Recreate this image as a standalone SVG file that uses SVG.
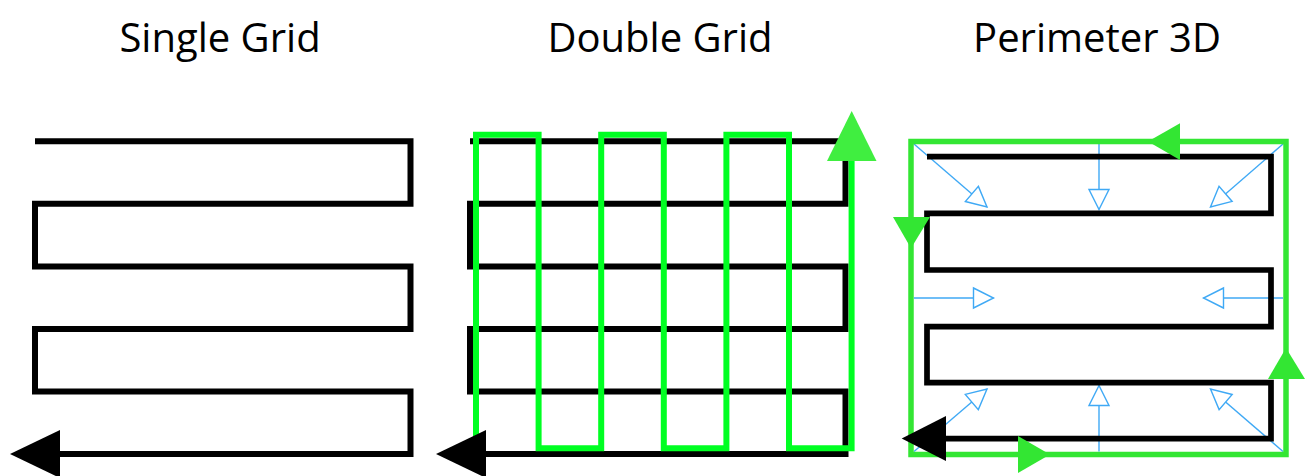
<svg xmlns="http://www.w3.org/2000/svg" width="1306" height="476" viewBox="0 0 1306 476">
<style>
.title{font-family:"Open Sans","Noto Sans",sans-serif;font-size:40px;fill:#000;text-anchor:middle}
.blk{fill:none;stroke:#000;stroke-width:6;stroke-linejoin:miter;stroke-linecap:butt}
.grn{fill:none;stroke:#00ff22;stroke-width:6;stroke-linejoin:miter}
.per{fill:none;stroke:#33e633;stroke-width:5.5}
.blu{fill:none;stroke:#3fa9f5;stroke-width:1.4;marker-end:url(#open)}
.ahb{fill:#000}
.ahg{fill:#33e633}
.ahg2{fill:#40ee40}
</style>
<defs>
<marker id="open" viewBox="0 0 22 22" refX="21" refY="11" markerWidth="22" markerHeight="22" markerUnits="userSpaceOnUse" orient="auto" overflow="visible">
<path d="M1,1 L21,11 L1,21 Z" fill="#fff" stroke="#3fa9f5" stroke-width="1.4"/>
</marker>
</defs>
<rect width="1306" height="476" fill="#fff"/>
<g id="titles">
<text class="title" x="220" y="52">Single Grid</text>
<text class="title" x="660" y="52">Double Grid</text>
<text class="title" x="1097" y="52">Perimeter 3D</text>
</g>
<g id="single-grid">
<path class="blk" d="M35,141.3 H410.5 V203.8 H35 V266.4 H410.5 V328.9 H35 V391.5 H410.5 V454 H60"/>
<polygon class="ahb" points="10,454 60,430 60,478"/>
</g>
<g id="double-grid">
<path class="blk" d="M470,141.3 H845.5 V203.8 H470 V266.4 H845.5 V328.9 H470 V391.5 H845.5 V454 H486"/>
<path class="grn" d="M476,448.3 V134.8 H538.6 V448.3 H601.2 V134.8 H663.8 V448.3 H726.4 V134.8 H789 V448.3 H851.6 V155"/>
<polygon class="ahg2" points="851.7,111 876.5,161 827,161"/>
<polygon class="ahb" points="436,454 486,430 486,478"/>
</g>
<g id="perimeter-3d">
<g id="connectors">
<line class="blu" x1="914" y1="144" x2="987" y2="207"/>
<line class="blu" x1="1099" y1="144" x2="1099" y2="209.5"/>
<line class="blu" x1="1283" y1="144" x2="1210.5" y2="207"/>
<line class="blu" x1="914" y1="298" x2="993.5" y2="298"/>
<line class="blu" x1="1283" y1="298" x2="1203.5" y2="298"/>
<line class="blu" x1="914" y1="451.5" x2="987" y2="389"/>
<line class="blu" x1="1099" y1="451.5" x2="1099" y2="385.5"/>
<line class="blu" x1="1283" y1="451.5" x2="1210.5" y2="389"/>
</g>
<rect class="per" x="911" y="141.5" width="375" height="313"/>
<path class="blk" d="M927,156.7 H1271 V213.3 H927 V270 H1271 V326.7 H927 V382.7 H1271 V438.7 H946" style="stroke-width:5.7"/>
<polygon class="ahg" points="1148,141.5 1180,123.3 1180,160"/>
<polygon class="ahg" points="911,248.3 893,217 930,217"/>
<polygon class="ahg" points="1050,454.5 1018,436 1018,473"/>
<polygon class="ahg" points="1286,348 1268,379 1305,379"/>
<polygon class="ahb" points="901.7,438.5 946,416 946,461"/>
</g>
</svg>
